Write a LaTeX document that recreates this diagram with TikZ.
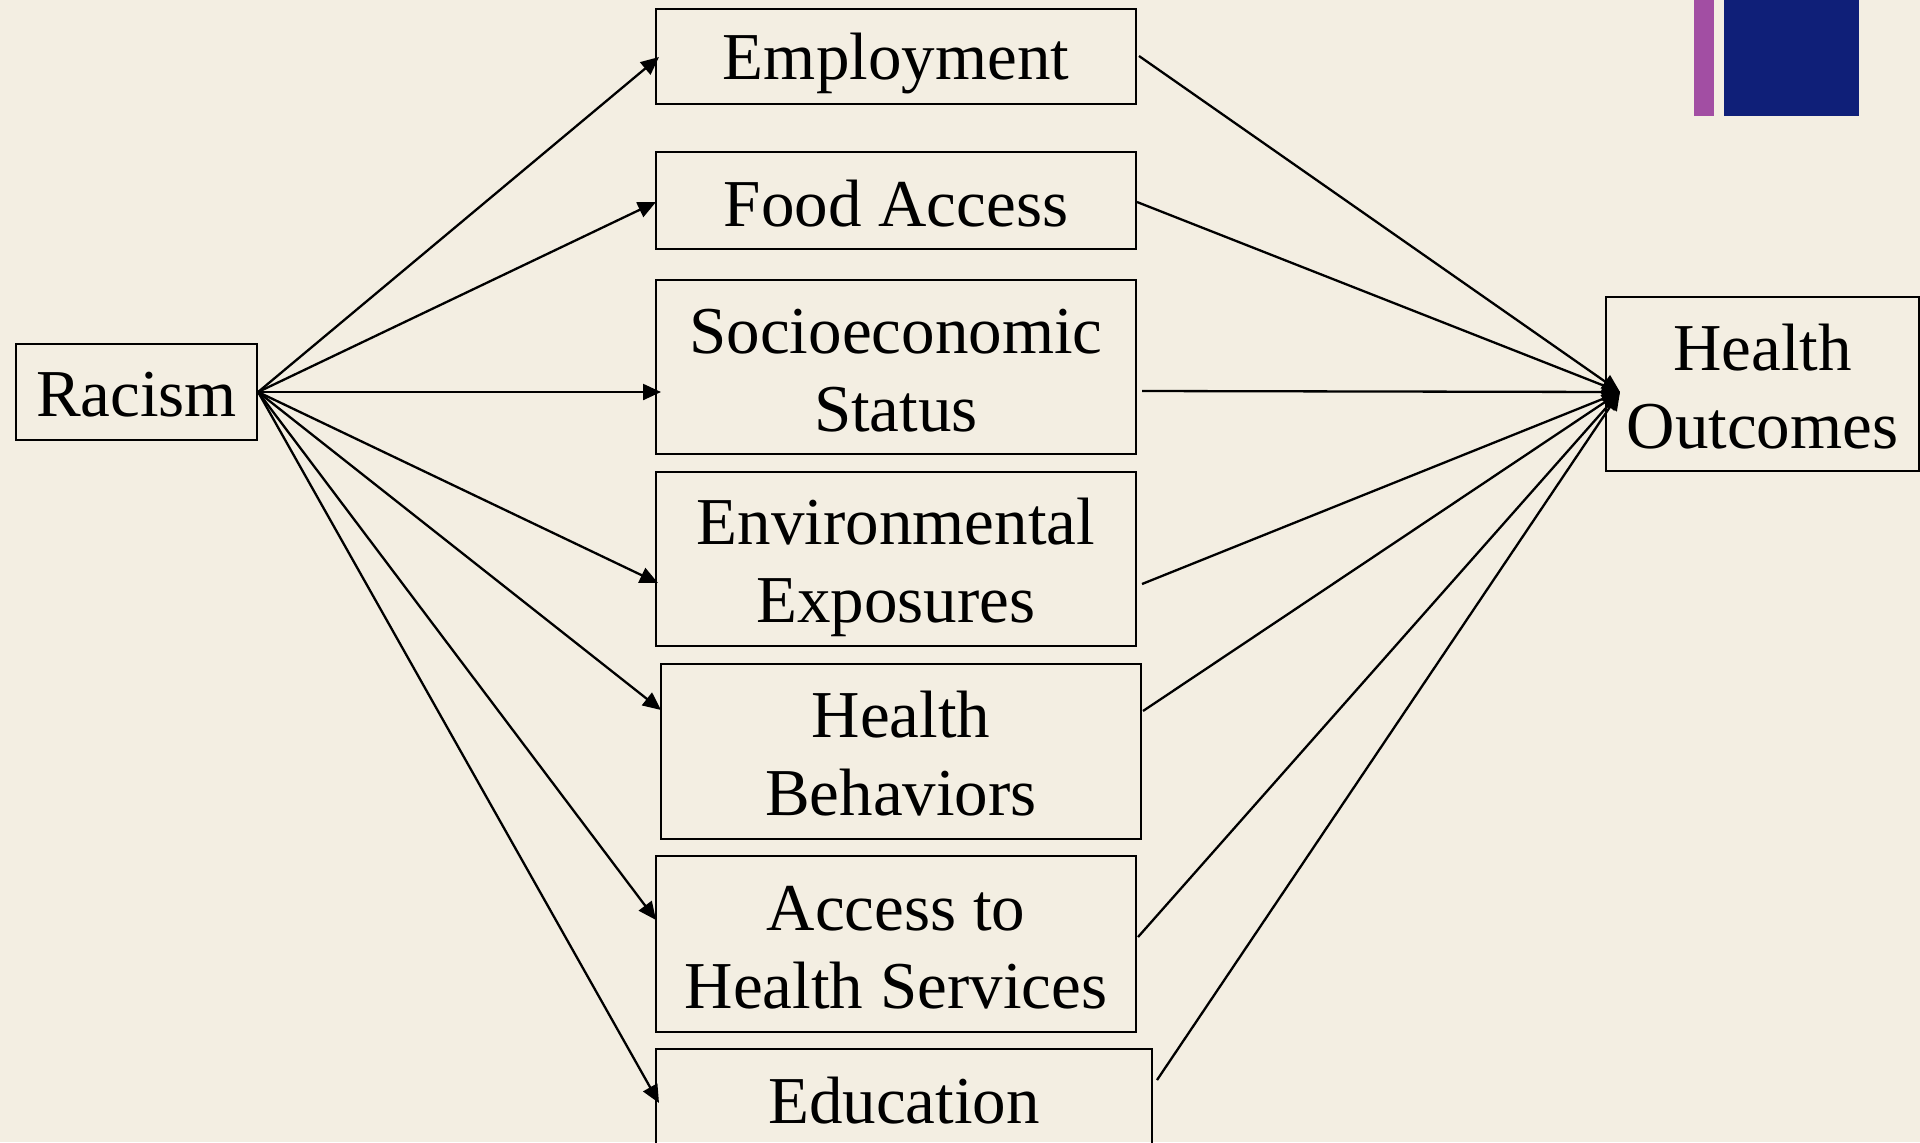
\documentclass[tikz,border=0pt]{standalone}
\usepackage{fontspec}
\setmainfont{Liberation Serif}
\usetikzlibrary{arrows.meta}
\definecolor{bgc}{HTML}{F3EEE2}
\definecolor{navyc}{HTML}{0F1F78}
\definecolor{purpc}{HTML}{A24EA3}
\begin{document}
\begin{tikzpicture}[x=0.5pt,y=-0.5pt,
  box/.style={draw=black,line width=1.1pt,rectangle,inner sep=0pt},
  txt/.style={inner sep=0pt,align=center,font=\fontsize{33.5}{39}\selectfont},
  conn/.style={line width=1.15pt,-{Triangle[length=9pt,width=8pt]}}]
\useasboundingbox (0,0) rectangle (1920,1142);
\clip (0,0) rectangle (1920,1142);
\fill[bgc] (0,0) rectangle (1920,1142);
\fill[purpc] (1694,0) rectangle (1714,116);
\fill[navyc] (1724,0) rectangle (1859,116);
% boxes
\node[box,minimum width=120.5pt,minimum height=48pt] (rac) at (136.5,392) {};
\node[box,minimum width=240pt,minimum height=47.5pt] (emp) at (896,56.5) {};
\node[box,minimum width=240pt,minimum height=48.5pt] (food) at (896,200.5) {};
\node[box,minimum width=240pt,minimum height=87pt] (ses) at (896,367) {};
\node[box,minimum width=240pt,minimum height=87pt] (env) at (896,559) {};
\node[box,minimum width=240pt,minimum height=87.5pt] (hb) at (901,751.5) {};
\node[box,minimum width=240pt,minimum height=88pt] (acc) at (896,944) {};
\node[box,minimum width=248pt,minimum height=51pt] (edu) at (904,1100) {};
\node[box,minimum width=156.5pt,minimum height=87pt] (ho) at (1762.5,384) {};
% texts
\node[txt] (racT) at (136.5,395) {Racism};
\node[txt] (empT) at (896,63.5) {Employment};
\node[txt] (foodT) at (896,203.5) {Food Access};
\node[txt] (sesT) at (896,371) {Socioeconomic\\Status};
\node[txt] (envT) at (896,567) {Environmental\\Exposures};
\node[txt] (hbT) at (901,753.5) {Health\\Behaviors};
\node[txt] (accT) at (896,948) {Access to\\Health Services};
\node[txt] (eduT) at (904,1101) {Education};
\node[txt] (hoT) at (1762.5,387) {Health\\Outcomes};
% arrow end points on the left column
\coordinate (tEmp) at (659,57);
\coordinate (tFood) at (656,202);
\coordinate (tSes) at (661,392);
\coordinate (tEnv) at (658,583);
\coordinate (tHb) at (661,710);
\coordinate (tAcc) at (656,920);
\coordinate (tEdu) at (659,1103);
% start points on the right column
\coordinate (sEmp) at (1139,56);
\coordinate (sFood) at (1137,202);
\coordinate (sSes) at (1142,391);
\coordinate (sEnv) at (1142,584);
\coordinate (sHb) at (1143,711);
\coordinate (sAcc) at (1138,937);
\coordinate (sEdu) at (1157,1080);
\coordinate (hoTip) at (1620,392);
% connectors from racism
\foreach \t in {tEmp,tFood,tSes,tEnv,tHb,tAcc,tEdu}
  \draw[conn] (rac.east) -- (\t);
% connectors to health outcomes
\foreach \s in {sEmp,sFood,sSes,sEnv,sHb,sAcc,sEdu}
  \draw[conn] (\s) -- (hoTip);
\end{tikzpicture}
\end{document}
